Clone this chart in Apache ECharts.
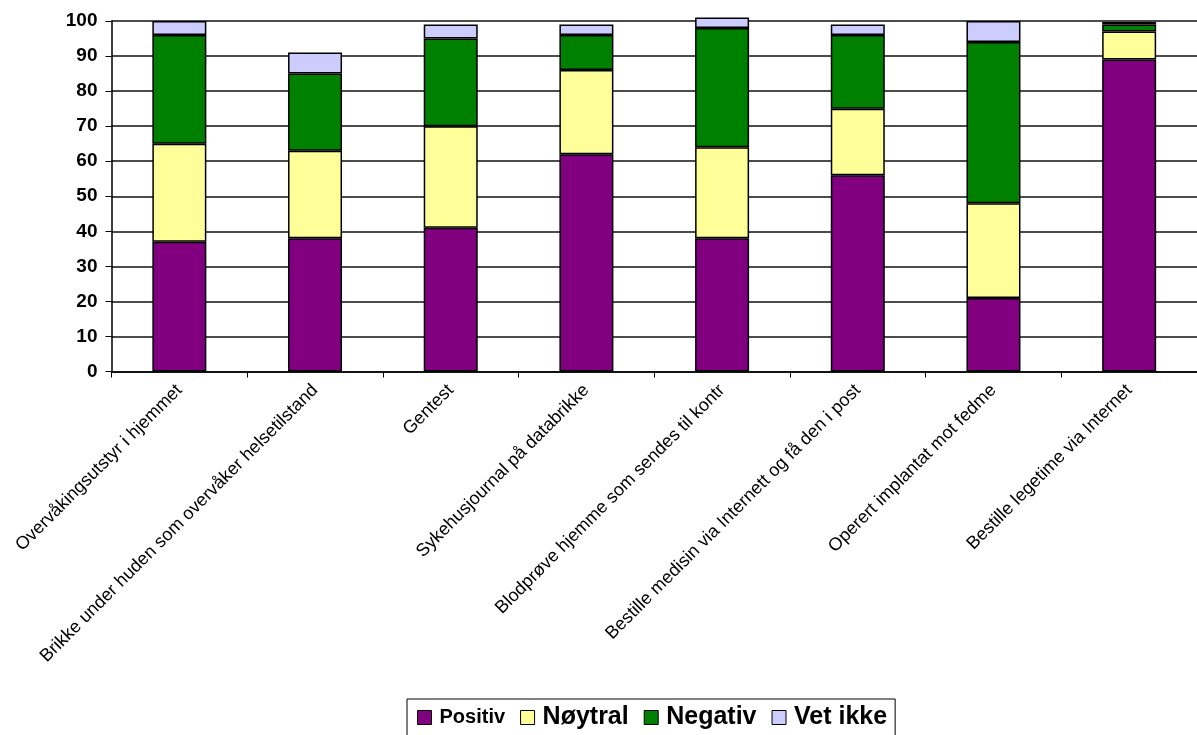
<!DOCTYPE html>
<html>
<head>
<meta charset="utf-8">
<script src="https://cdn.jsdelivr.net/npm/echarts@6/dist/echarts.min.js"></script>
<style>
html,body{margin:0;padding:0;background:#fff;}
#chart{width:1197px;height:735px;}
</style>
</head>
<body>
<div id="chart"></div>
<script>
const categories = [
  "Overvåkingsutstyr i hjemmet",
  "Brikke under huden som overvåker helsetilstand",
  "Gentest",
  "Sykehusjournal på databrikke",
  "Blodprøve hjemme som sendes til kontr",
  "Bestille medisin via Internett og få den i post",
  "Operert implantat mot fedme",
  "Bestille legetime via Internet"
];
const positiv = [37, 38, 41, 62, 38, 56, 21, 89];
const noytral = [28, 25, 29, 24, 26, 19, 27, 8];
const negativ = [31, 22, 25, 10, 34, 21, 46, 2];
const vetIkke = [4, 6, 4, 3, 3, 3, 6, 0.7];
const yTicks = [0, 10, 20, 30, 40, 50, 60, 70, 80, 90, 100];

const seriesNames = ["Positiv", "Nøytral", "Negativ", "Vet ikke"];
const seriesColors = ["#800080", "#FFFF99", "#008000", "#CCCCFF"];
const seriesData = [positiv, noytral, negativ, vetIkke];

const FONT = "'Liberation Sans', Arial, sans-serif";
const chart = echarts.init(document.getElementById('chart'), null, {renderer: 'canvas'});

chart.setOption({
  backgroundColor: '#ffffff',
  animation: false,
  grid: { left: 111.5, top: 21, width: 1088, height: 350.5, containLabel: false },
  legend: {
    left: 407,
    top: 699,
    orient: 'horizontal',
    padding: [6, 8, 12, 10],
    borderColor: '#000',
    borderWidth: 1,
    itemWidth: 14,
    itemHeight: 14,
    itemGap: 15,
    icon: 'rect',
    itemStyle: { borderColor: '#000', borderWidth: 1 },
    textStyle: { fontFamily: FONT, fontWeight: 'bold', color: '#000', fontSize: 25, padding: [0, 0, 0, 3] },
    data: [
      { name: "Positiv", textStyle: { fontSize: 20 } },
      { name: "Nøytral" },
      { name: "Negativ" },
      { name: "Vet ikke" }
    ]
  },
  xAxis: {
    type: 'category',
    data: categories,
    boundaryGap: true,
    axisLine: { show: true, lineStyle: { color: '#000', width: 1.5 } },
    axisTick: { show: true, alignWithLabel: false, length: 6, lineStyle: { color: '#000', width: 1 } },
    axisLabel: {
      interval: 0,
      rotate: 45,
      margin: 16,
      fontFamily: FONT,
      fontSize: 18,
      color: '#000'
    },
    splitLine: { show: false }
  },
  yAxis: {
    type: 'value',
    min: yTicks[0],
    max: yTicks[yTicks.length - 1],
    interval: yTicks[1] - yTicks[0],
    axisLine: { show: true, lineStyle: { color: '#000', width: 1.5 } },
    axisTick: { show: true, inside: false, length: 6, lineStyle: { color: '#000', width: 1 } },
    axisLabel: {
      margin: 14,
      fontFamily: FONT,
      fontSize: 19,
      fontWeight: 'bold',
      color: '#000'
    },
    splitLine: { show: true, lineStyle: { color: '#111', width: 1.5 } }
  },
  series: seriesNames.map((name, i) => ({
    name: name,
    type: 'bar',
    stack: 'total',
    barWidth: 54,
    clip: false,
    data: seriesData[i],
    itemStyle: { color: seriesColors[i], borderColor: '#000', borderWidth: 1.5 },
    emphasis: { disabled: true }
  }))
});
</script>
</body>
</html>
